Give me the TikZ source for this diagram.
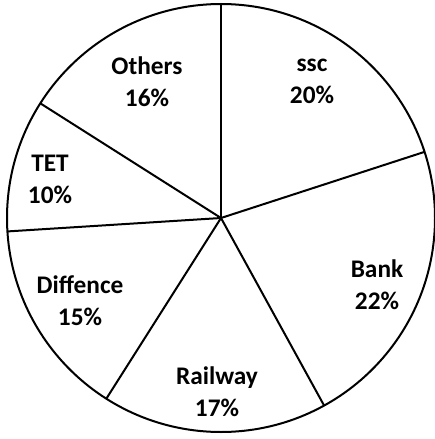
\documentclass[tikz,border=0pt]{standalone}
\usepackage{fontspec}
\setmainfont{Carlito}
\usetikzlibrary{calc}
\tikzstyle{every node}=[align=center,inner sep=0pt,font=\fontsize{19}{24}\selectfont\bfseries]
\tikzstyle{slice}=[line width=1.5pt]

\begin{document}
\begin{tikzpicture}[x=0.75pt,y=-0.75pt]
  \useasboundingbox (0,0) rectangle (435,439);
  \coordinate (centre) at (221,218);
  % angles are mirrored since y runs downwards
  \coordinate (sscStart) at ($(centre)+(-90:214)$);
  \coordinate (bankStart) at ($(centre)+(-18:214)$);
  \coordinate (railStart) at ($(centre)+(61.2:214)$);
  \coordinate (diffStart) at ($(centre)+(122.4:214)$);
  \coordinate (tetStart) at ($(centre)+(176.4:214)$);
  \coordinate (othersStart) at ($(centre)+(-147.6:214)$);
  \draw[slice] (centre) circle (214);
  \draw[slice] (centre) -- (sscStart);
  \draw[slice] (centre) -- (bankStart);
  \draw[slice] (centre) -- (railStart);
  \draw[slice] (centre) -- (diffStart);
  \draw[slice] (centre) -- (tetStart);
  \draw[slice] (centre) -- (othersStart);
  \node (ssc) at (312,81) {ssc\\20\%};
  \node (bank) at (377,285) {Bank\\22\%};
  \node (railway) at (217,392) {Railway\\17\%};
  \node (diffence) at (80,301) {Diffence\\15\%};
  \node (tet) at (50,179) {TET\\10\%};
  \node (others) at (147,82) {Others\\16\%};
\end{tikzpicture}
\end{document}
